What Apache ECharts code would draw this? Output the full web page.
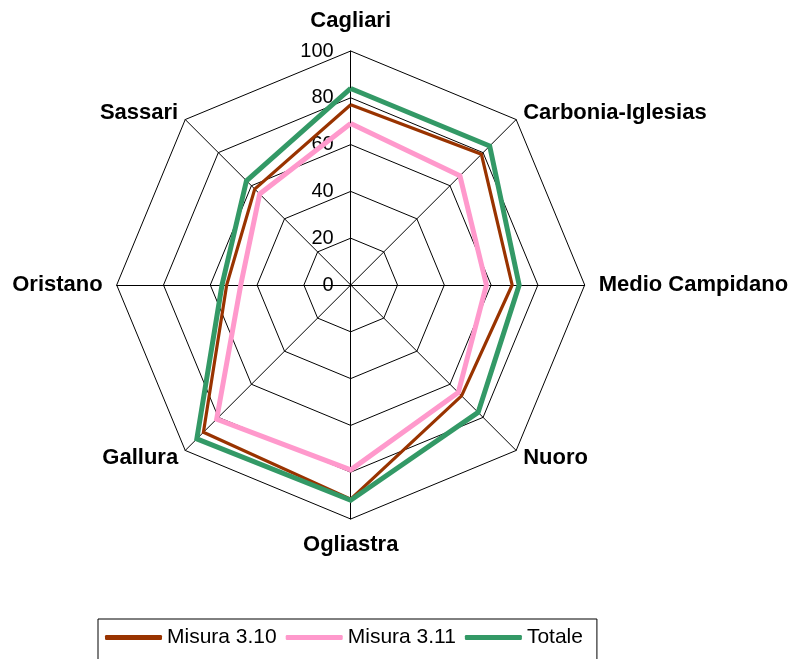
<!DOCTYPE html>
<html>
<head>
<meta charset="utf-8">
<script src="https://cdn.jsdelivr.net/npm/echarts@6/dist/echarts.min.js"></script>
<style>
html,body{margin:0;padding:0;background:#fff;}
#chart{width:799px;height:659px;}
</style>
</head>
<body>
<div id="chart"></div>
<script>
// Categories in clockwise order starting from the top
const categories = ['Cagliari', 'Carbonia-Iglesias', 'Medio Campidano', 'Nuoro', 'Ogliastra', 'Gallura', 'Oristano', 'Sassari'];
const seriesNames = ['Misura 3.10', 'Misura 3.11', 'Totale'];
const misura310 = [77, 79, 69, 67, 91.5, 89, 53, 58];
const misura311 = [69, 66, 58, 65, 79, 81, 47, 55];
const totale = [84, 84, 72, 77, 92, 93, 55, 63];
const tickLabels = ['0', '20', '40', '60', '80', '100'];
const colors = ['#993300', '#FF99CC', '#339966'];
const widths = [3.2, 5, 5];

// ECharts places radar indicators counter-clockwise; reorder to draw clockwise
function ccw(arr) { return [arr[0]].concat(arr.slice(1).reverse()); }
const orderedCats = ccw(categories);

const indicators = orderedCats.map(function (name, i) {
  const ind = { name: name, min: 0, max: 100 };
  if (i === 0) ind.axisLabel = { show: true };
  return ind;
});

const chart = echarts.init(document.getElementById('chart'));
const nameFont = { fontFamily: 'Liberation Sans, Arial, sans-serif', fontWeight: 'bold', fontSize: 22, color: '#000' };
chart.setOption({
  animation: false,
  backgroundColor: '#fff',
  legend: {
    data: seriesNames,
    left: 98,
    top: 619,
    orient: 'horizontal',
    padding: [8, 14, 16, 7],
    borderColor: '#000',
    borderWidth: 1,
    itemGap: 9,
    itemWidth: 57,
    itemHeight: 5,
    icon: 'roundRect',
    textStyle: { fontFamily: 'Liberation Sans, Arial, sans-serif', fontSize: 21, color: '#000' }
  },
  radar: {
    center: [350.7, 285],
    radius: 234,
    startAngle: 90,
    shape: 'polygon',
    splitNumber: 5,
    nameGap: 10,
    indicator: indicators,
    axisName: Object.assign({
      verticalAlign: 'middle',
      formatter: function (name) {
        const idx = categories.indexOf(name);
        if (idx === 0) return '{top|' + name + '}';
        if (idx === 4) return '{bot|' + name + '}';
        if (idx === 2 || idx === 6) return '{side|' + name + '}';
        return '{n|' + name + '}';
      },
      rich: {
        top: Object.assign({ padding: [0, 0, 41, 0] }, nameFont),
        bot: Object.assign({ padding: [32, 0, 0, 0] }, nameFont),
        side: Object.assign({ padding: [0, 4, 0, 4] }, nameFont),
        n: Object.assign({}, nameFont)
      }
    }, nameFont),
    axisLine: { lineStyle: { color: '#000', width: 1 } },
    splitLine: { lineStyle: { color: '#000', width: 1 } },
    splitArea: { show: false },
    axisTick: { show: false },
    axisLabel: {
      show: false,
      fontFamily: 'Liberation Sans, Arial, sans-serif',
      fontSize: 20,
      color: '#000',
      margin: 17,
      formatter: function (v) { return tickLabels[Math.round(v / 20)]; }
    }
  },
  series: [{
    type: 'radar',
    symbol: 'none',
    data: [misura310, misura311, totale].map(function (vals, k) {
      return {
        name: seriesNames[k],
        value: ccw(vals),
        itemStyle: { color: colors[k] },
        lineStyle: { color: colors[k], width: widths[k], join: 'miter' }
      };
    })
  }]
});
</script>
</body>
</html>
